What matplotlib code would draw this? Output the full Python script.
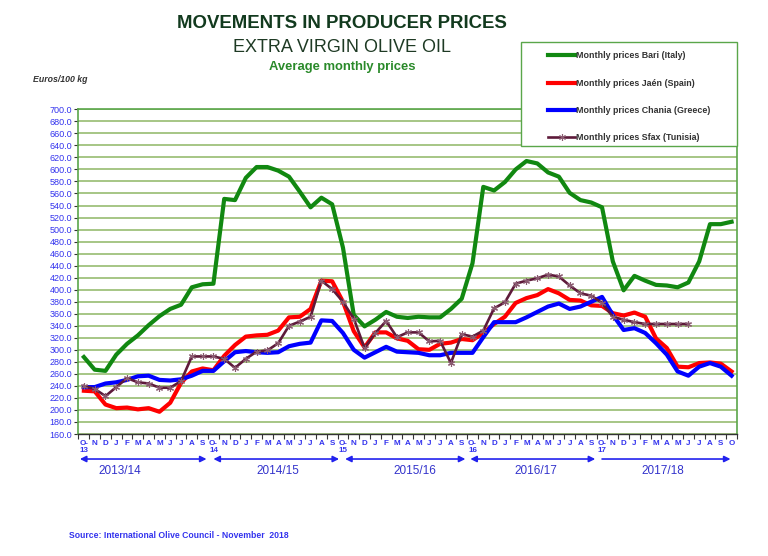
import numpy as np
import matplotlib
matplotlib.use("Agg")
import matplotlib.pyplot as plt
from matplotlib.patches import Rectangle

plt.rcParams['font.family'] = ['Liberation Sans', 'DejaVu Sans']

# months Oct 2013 .. Oct 2018
months = list("ONDJFMAMJJAS") * 5 + ["O"]
oct_years = {0: "13", 12: "14", 24: "15", 36: "16", 48: "17"}

bari = [288, 267, 265, 292, 310, 324, 341, 356, 368, 375, 404, 409,
        410, 551, 549, 586, 604, 604, 598, 588, 563, 537, 553, 542,
        470, 358, 339, 350, 363, 355, 353, 355, 354, 354, 368, 385,
        444, 571, 565, 579, 600, 614, 610, 595, 588, 561, 549, 545,
        537, 447, 399, 423, 415, 408, 407, 404, 412, 447, 509, 509, 513]
jaen = [232, 231, 209, 203, 204, 201, 203, 197, 212, 245, 264, 269,
        266, 290, 308, 322, 324, 325, 332, 354, 355, 368, 415, 414,
        380, 331, 304, 329, 329, 319, 315, 301, 300, 310, 312, 318,
        316, 328, 343, 355, 378, 386, 391, 401, 394, 383, 382, 374,
        373, 361, 357, 362, 355, 319, 303, 272, 271, 278, 279, 277, 264]
chania = [238, 238, 244, 246, 250, 256, 257, 250, 249, 251, 257, 265,
          265, 281, 296, 298, 296, 295, 296, 306, 310, 312, 349, 348,
          328, 300, 287, 296, 305, 297, 296, 295, 291, 291, 295, 295,
          295, 321, 346, 346, 346, 354, 363, 372, 377, 368, 372, 380,
          388, 358, 333, 336, 328, 311, 292, 264, 257, 272, 278, 272, 257]
sfax = [240, 235, 223, 238, 253, 246, 244, 237, 237, 248, 289, 289,
        289, 285, 270, 285, 297, 299, 311, 340, 347, 355, 415, 401,
        380, 352, 303, 328, 348, 321, 329, 329, 314, 315, 278, 326,
        322, 332, 369, 379, 410, 415, 419, 425, 422, 407, 394, 390,
        378, 355, 350, 346, 343, 343, 343, 343, 343]

seasons = ["2013/14", "2014/15", "2015/16", "2016/17", "2017/18"]
season_from = [-0.37, 12.0, 24.2, 35.8, 48.0]
season_to = [11.36, 23.64, 35.34, 47.37, 59.9]
season_text_x = [3.3, 18.0, 30.65, 41.9, 53.6]

blue_txt = '#3333EE'
grid_green = '#93B96A'
frame_green = '#5AA64A'

fig = plt.figure(figsize=(7.68, 5.56), dpi=100)
ax = fig.add_axes([0.1022, 0.2194, 0.8574, 0.584])

x = np.arange(len(months))
l1, = ax.plot(x, bari, color='#118811', lw=3.0, solid_joinstyle='round', zorder=3)
l2, = ax.plot(x, jaen, color='#FF0000', lw=3.0, solid_joinstyle='round', zorder=3)
l3, = ax.plot(x, chania, color='#0000FF', lw=3.0, solid_joinstyle='round', zorder=3)
l4, = ax.plot(np.arange(len(sfax)), sfax, color='#5E1A3A', lw=1.9,
              marker=(6, 2, 0), ms=5, mec='#8A5A70', mew=0.8, zorder=4)

ax.set_xlim(-0.5, len(months) - 0.5)
ax.set_ylim(160, 700)
ax.set_yticks(np.arange(160, 701, 20))
ax.set_yticklabels(["%.1f" % v for v in np.arange(160, 701, 20)])
ax.yaxis.grid(True, color=grid_green, lw=1.15)
ax.set_axisbelow(True)
ax.tick_params(axis='y', direction='out', length=3, width=0.8, color='#333333',
               labelsize=6.5, labelcolor=blue_txt, pad=1.5)

ax.set_xticks(np.arange(-0.5, len(months), 1))
ax.set_xticklabels([])
ax.set_xticks(x, minor=True)
labels = []
for i, m in enumerate(months):
    if i in oct_years:
        labels.append("O-\n" + oct_years[i])
    else:
        labels.append(m)
ax.set_xticklabels(labels, minor=True, fontsize=5.8, fontweight='bold',
                   color=blue_txt, linespacing=1.1, multialignment='left')
ax.tick_params(axis='x', which='major', direction='out', length=3.5, width=0.8,
               color='#333333')
ax.tick_params(axis='x', which='minor', length=0, pad=4)

for s in ['left', 'top', 'right']:
    ax.spines[s].set_color(frame_green)
    ax.spines[s].set_linewidth(1.2)
ax.spines['bottom'].set_color('#333333')
ax.spines['bottom'].set_linewidth(1.0)

# season arrows under the axis
tr = ax.get_xaxis_transform()
for k, name in enumerate(seasons):
    style = '<|-|>' if k < len(seasons) - 1 else '-|>'
    ax.annotate('', xy=(season_to[k], -0.077), xytext=(season_from[k], -0.077),
                xycoords=tr, textcoords=tr, annotation_clip=False,
                arrowprops=dict(arrowstyle=style, color='#2222EE', lw=1.2,
                                mutation_scale=9, shrinkA=0, shrinkB=0))
    ax.text(season_text_x[k], -0.113, name, transform=tr, ha='center', va='center',
            fontsize=8.5, color='#3333CC', clip_on=False)

# titles
fig.text(342 / 768, 1 - 23 / 556, "MOVEMENTS IN PRODUCER PRICES", ha='center',
         va='center', fontsize=13.4, fontweight='bold', color='#123A1E')
fig.text(342 / 768, 1 - 47 / 556, "EXTRA VIRGIN OLIVE OIL", ha='center',
         va='center', fontsize=13, color='#1E3A24')
fig.text(342 / 768, 1 - 67 / 556, "Average monthly prices", ha='center',
         va='center', fontsize=9.4, fontweight='bold', color='#2A8A2A')
fig.text(33 / 768, 1 - 80 / 556, "Euros/100 kg", ha='left', va='center',
         fontsize=6.3, fontweight='bold', style='italic', color='#333333')
fig.text(69 / 768, 1 - 535 / 556, "Source: International Olive Council - November  2018",
         ha='left', va='center', fontsize=6.2, fontweight='bold', color='#3333EE')

# legend box
fig.patches.append(Rectangle((521 / 768, 1 - 146 / 556), 216 / 768, 104 / 556,
                             transform=fig.transFigure, facecolor='white',
                             edgecolor=frame_green, lw=1.0, zorder=1))
fig.legend([l1, l2, l3, l4],
           ["Monthly prices Bari (Italy)", "Monthly prices Jaén (Spain)",
            "Monthly prices Chania (Greece)", "Monthly prices Sfax (Tunisia)"],
           loc='upper left', bbox_to_anchor=(544 / 768, 1 - 47 / 556),
           frameon=False, borderpad=0, handlelength=3.0, handletextpad=0.15,
           labelspacing=2.05, prop={'size': 6.4, 'weight': 'bold'},
           labelcolor='#333333')

fig.savefig("out.png", dpi=100)
